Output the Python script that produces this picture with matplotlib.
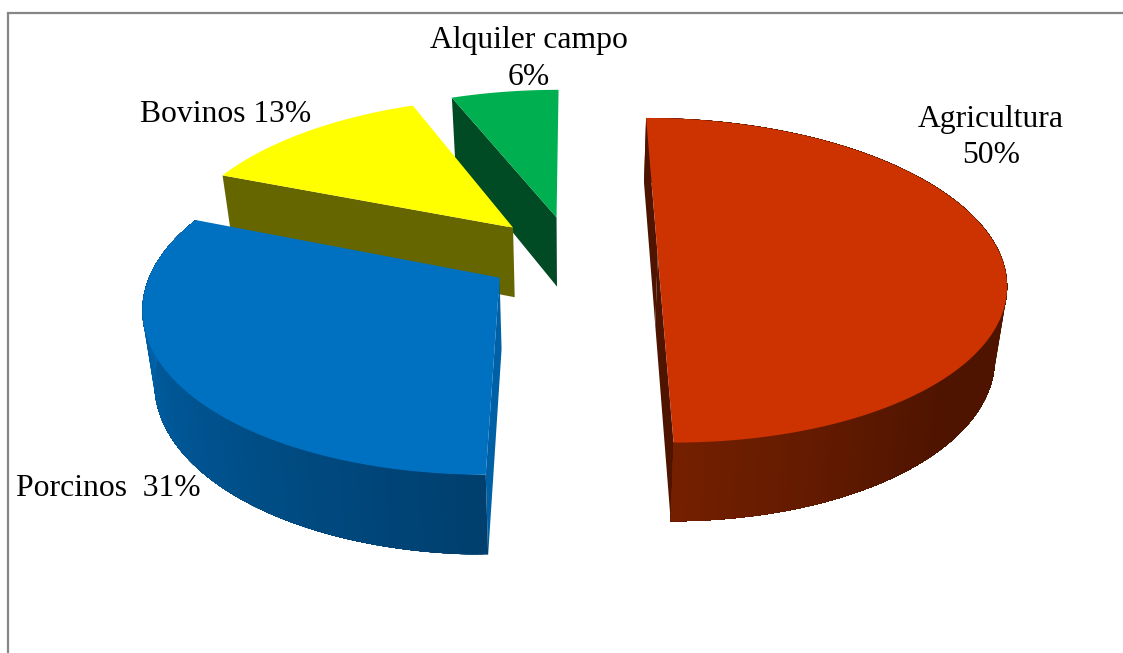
import numpy as np
import matplotlib
matplotlib.use('Agg')
import matplotlib.pyplot as plt
from matplotlib.colors import to_rgb
from matplotlib.patches import Polygon

# datos
categories = ['Agricultura', 'Porcinos', 'Bovinos', 'Alquiler campo']
shares = [50, 31, 13, 6]

top_colors = ['#CC3300', '#0070C0', '#FFFF00', '#00B050']
face_colors = ['#4F1400', '#0060A6', '#666600', '#004A24']
rim_near = ['#752000', '#003F6E']
rim_far = ['#4F1400', '#006DBB']

# camara: punto de fuga y proyeccion del disco
VP_X, VP_Y = 572, -757
SCALE_X, SCALE_Y = 2190, 6466
DIST = 6.39
EXPLODE = 0.25


def project(x, d, low=False):
    sx = VP_X + SCALE_X * x / d
    sy = VP_Y + SCALE_Y / d
    if low:
        sx = VP_X + (sx - VP_X) * 0.972
        sy = sy + 28.3 + 271 / d
    return sx, sy


def disc_point(cx, cd, theta, low=False):
    return project(cx + np.sin(theta), cd + np.cos(theta), low)


def mix(c1, c2, t):
    c1, c2 = np.array(to_rgb(c1)), np.array(to_rgb(c2))
    return tuple(c1 + (c2 - c1) * t)


fig = plt.figure(figsize=(11.23, 6.53), dpi=100)
ax = fig.add_axes([0, 0, 1, 1])
ax.set_xlim(0, 1123)
ax.set_ylim(653, 0)
ax.axis('off')

# marco del area del grafico
ax.plot([8, 8, 1123], [653, 13, 13], color='#868686', lw=1.6, solid_joinstyle='miter')

ends = np.cumsum(shares) / sum(shares) * 2 * np.pi
starts = np.r_[0, ends[:-1]]

# de atras hacia adelante
for i in [3, 2, 1, 0]:
    a0, a1 = starts[i], ends[i]
    mid = (a0 + a1) / 2
    cx = EXPLODE * np.sin(mid)
    cd = DIST + EXPLODE * np.cos(mid)
    tt = np.linspace(a0, a1, 160)
    base = -3 * i + 10

    # caras de corte visibles
    face = [disc_point(cx, cd, a0), project(cx, cd), project(cx, cd, True), disc_point(cx, cd, a0, True)]
    ax.add_patch(Polygon(face, closed=True, fc=face_colors[i], ec='none', zorder=base))
    if i == 0:
        face = [project(cx, cd), disc_point(cx, cd, a1), disc_point(cx, cd, a1, True), project(cx, cd, True)]
        ax.add_patch(Polygon(face, closed=True, fc=face_colors[i], ec='none', zorder=base))

    # borde lateral con degradado, cada tramo tapa al anterior para evitar costuras
    if i < 2:
        for j in range(len(tt) - 1):
            t = (tt[j] - a0) / (a1 - a0)
            if i == 0:
                col = mix(rim_far[i], rim_near[i], np.clip((t - 0.75) / 0.25, 0, 1))
            else:
                col = mix(rim_near[i], rim_far[i], t)
            rest = tt[j:]
            upper = [disc_point(cx, cd, a) for a in rest]
            lower = [disc_point(cx, cd, a, True) for a in rest[::-1]]
            ax.add_patch(Polygon(upper + lower, closed=True, fc=col, ec='none', zorder=base + 1))

    # cara superior
    pts = [project(cx, cd)] + [disc_point(cx, cd, a) for a in tt]
    ax.add_patch(Polygon(pts, closed=True, fc=top_colors[i], ec='none', zorder=base + 2))

# etiquetas
txt = dict(family=['Liberation Serif', 'DejaVu Serif'], fontsize=22.8, color='black', ha='center', va='center',
           linespacing=1.32, zorder=30)
ax.text(991, 137.5, f'{categories[0]}\n{shares[0]}%', **txt)
ax.text(108, 488, f'{categories[1]}  {shares[1]}%', **txt)
ax.text(225.5, 114, f'{categories[2]} {shares[2]}%', **txt)
ax.text(529, 59, f'{categories[3]}\n{shares[3]}%', **txt)

fig.savefig('out.png', dpi=100)
plt.close(fig)
